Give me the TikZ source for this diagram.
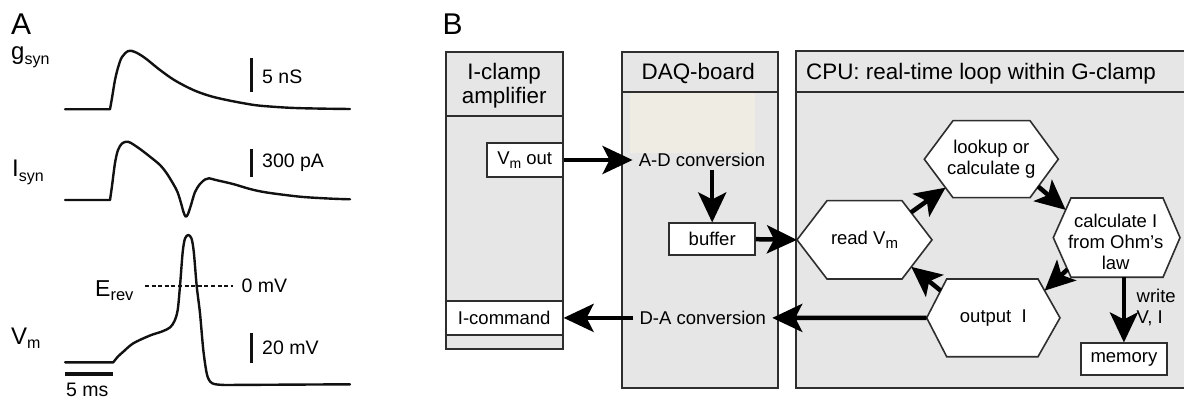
\documentclass[tikz,border=0pt]{standalone}
\usepackage{fontspec}
\setmainfont{Liberation Sans}
\usetikzlibrary{arrows.meta,calc}
\definecolor{panelgray}{HTML}{E6E6E6}
\definecolor{edgegray}{HTML}{2E2E2E}
\definecolor{beige}{HTML}{EFEDE3}
\definecolor{ink}{HTML}{111111}

% lowered, smaller subscript text
\newcommand\lowered[2][15]{\raisebox{-0.2em}{\fontsize{#1}{#1}\selectfont #2}}

% hexagon with pointed left/right ends:
% name, left tip x, flat-left x, flat-right x, right tip x, top y, bottom y
\newcommand\hexagon[7]{%
  \coordinate (#1-w)  at (#2,{(#6+#7)/2});
  \coordinate (#1-nw) at (#3,#6);
  \coordinate (#1-ne) at (#4,#6);
  \coordinate (#1-e)  at (#5,{(#6+#7)/2});
  \coordinate (#1-se) at (#4,#7);
  \coordinate (#1-sw) at (#3,#7);
  \draw[hexline] (#1-w) -- (#1-nw) -- (#1-ne) -- (#1-e) -- (#1-se) -- (#1-sw) -- cycle;
}

\begin{document}
\begin{tikzpicture}[x=1pt,y=-1pt,
  trace/.style={draw=ink, line width=2.4pt, line join=round, line cap=round},
  scalebar/.style={draw=ink, line width=3pt},
  panel/.style={draw=edgegray, line width=1.8pt, fill=panelgray, inner sep=0pt},
  divider/.style={draw=edgegray, line width=1.8pt},
  whitebox/.style={draw=edgegray, line width=1.8pt, fill=white, inner sep=0pt,
    font=\fontsize{18.5}{21}\selectfont},
  hexline/.style={draw=edgegray, line width=1.6pt, fill=white, line join=miter},
  flow/.style={draw=black, line width=4.5pt, -{Stealth[length=30pt,width=28pt,inset=7pt]}},
  headtext/.style={font=\fontsize{22.4}{25}\selectfont, align=center, inner sep=0pt},
  bodytext/.style={font=\fontsize{18.5}{21}\selectfont, align=center, inner sep=0pt},
  tracelabel/.style={font=\fontsize{24}{24}\selectfont, inner sep=0pt, anchor=base west},
  scaletext/.style={font=\fontsize{19.5}{20}\selectfont, inner sep=0pt, anchor=west},
  paneltag/.style={font=\fontsize{30}{30}\selectfont, inner sep=0pt, anchor=west}
]
\useasboundingbox (0,0) rectangle (1184,398);

% ---------------- Panel A: recorded traces ----------------
\node[paneltag] (tagA) at (11,24) {A};

\node[tracelabel] (lg) at (11,60) {g\lowered[16]{syn}};
\node[tracelabel] (li) at (12,176.7) {I\lowered[16]{syn}};
\node[tracelabel] (lv) at (11,344) {V\lowered[16]{m}};

% synaptic conductance
\draw[trace] (65,109.3) -- (110,109.3) -- plot[smooth, tension=0.55] coordinates {
  (110,109.3) (112,98) (115,80) (118.3,66.7) (122,57) (128.3,51) (135,52)
  (145,58) (160,70) (175,80.5) (193.3,90) (210,96) (226.7,100) (245,103.5)
  (260,105.7) (290,107.8) (320,108.6) (350,109)};
\draw[scalebar] (251.7,58.3) -- (251.7,91.7);
\node[scaletext] (sg) at (262,77) {5 nS};

% synaptic current
\draw[trace] (65,200) -- (110,200) -- plot[smooth, tension=0.5] coordinates {
  (110,200) (112,186) (115,163) (118,150) (122,143.5) (126.7,141.7) (131,143)
  (140,149) (150,156.7) (160,165) (166.7,173.3) (173.3,184) (177.5,192)
  (181,203) (183.5,212) (185.7,216.7) (188,214) (191,205) (195,192)
  (200,184) (205,179.5) (209,178.3) (215,179.8) (233,184) (250,189)
  (266.7,192.5) (300,196.7) (330,198.6) (350,199.3)};
\draw[scalebar] (251.7,149.3) -- (251.7,177.3);
\node[scaletext] (si) at (262,163) {300 pA};

% membrane potential
\draw[trace] (65,362.3) -- (113.3,362.3) -- plot[smooth, tension=0.5] coordinates {
  (113.3,362.3) (118,356.5) (123.3,351.7) (133.3,343.3) (150,335.5)
  (162,331.5) (170,327.5) (174.5,321) (177.7,310) (180,286) (182.7,252)
  (185,238.5) (188.3,235) (191.5,238.5) (193.8,252) (196.7,286) (200,313.3)
  (203.3,350) (206.7,373.3) (210,381.5) (215,384.2) (225,385)}
  -- (350,384.3);
\draw[trace, line width=2pt, dash pattern=on 4pt off 2.6pt, line cap=butt] (145,286) -- (233.3,286);
\node[tracelabel, font=\fontsize{23}{23}\selectfont] (le) at (95,296) {E\lowered[16.5]{rev}};
\node[scaletext] (s0) at (241.5,286) {0 mV};
\draw[scalebar] (251.7,333.3) -- (251.7,363.3);
\node[scaletext] (sv) at (262,348) {20 mV};
\draw[scalebar, line width=4pt] (65,374.3) -- (113.3,374.3);
\node[scaletext] (st) at (66,389.5) {5 ms};

% ---------------- Panel B: G-clamp data flow ----------------
\node[paneltag] (tagB) at (442.5,24) {B};

% I-clamp amplifier
\node[panel, minimum width=117pt, minimum height=297.6pt] (amp) at (504.2,200.5) {};
\draw[divider] (445.7,116) -- (562.7,116);
\node[headtext] (ampt) at (504.2,85.5) {I-clamp\\[-1pt]amplifier};
\node[whitebox, minimum width=76pt, minimum height=33.4pt] (vmout) at (524.7,160) {V\lowered[14]{m} out};
\node[whitebox, minimum width=117pt, minimum height=34pt] (icmd) at (504.2,317.9) {I-command};

% DAQ board
\node[panel, minimum width=155.4pt, minimum height=336pt] (daq) at (700,219.7) {};
\draw[divider] (622.3,92.3) -- (777.7,92.3);
\node[headtext] (daqt) at (698.3,73.3) {DAQ-board};
\fill[beige] (630,93.3) rectangle (755,153);
\node[bodytext, inner xsep=6pt, inner ysep=3pt] (ad) at (702,160) {A-D conversion};
\node[whitebox, minimum width=85.7pt, minimum height=31.7pt] (buf) at (712.2,239.2) {buffer};
\node[bodytext, inner xsep=6pt] (da) at (702.8,317.9) {D-A conversion};

% CPU real-time loop
\node[panel, minimum width=398pt, minimum height=337.3pt] (cpu) at (994.7,219.7) {};
\draw[divider] (795.7,92.3) -- (1193,92.3);
\node[headtext, anchor=west] (cput) at (806,73.3) {CPU: real-time loop within G-clamp};

\hexagon{lk}{924.3}{953}{1030}{1058.3}{120.7}{197.7}
\hexagon{rv}{797}{827}{902}{932}{200.7}{279}
\hexagon{ci}{1053.3}{1071}{1163}{1180}{198}{277.3}
\hexagon{oi}{926.7}{946.7}{1038}{1060}{279}{356.7}

\node[bodytext] (lkt) at ($(lk-w)!0.5!(lk-e)$) {lookup or\\calculate g};
\node[bodytext] (rvt) at ($(rv-w)!0.5!(rv-e)$) {read V\lowered{m}};
\node[bodytext] (cit) at ($(ci-w)!0.5!(ci-e)+(-1,4)$) {calculate I\\from Ohm's\\law};
\node[bodytext] (oit) at ($(oi-w)!0.5!(oi-e)$) {output~~I};

\node[whitebox, minimum width=85.7pt, minimum height=31.7pt] (mem) at (1123.9,359.2) {memory};
\node[bodytext, align=left, anchor=west] (wvi) at (1136.5,307.5) {write\\V, I};

% connectors
\draw[flow] (vmout.east) -- (ad.west);
\draw[flow] (ad.south -| buf.north) -- (buf.north);
\draw[flow] (buf.east) -- (rv-w);
\draw[flow] ($(rv-ne)!0.3!(rv-e)$) -- ($(lk-sw)!0.26!(lk-w)$);
\draw[flow] ($(lk-se)!0.29!(lk-e)$) -- ($(ci-nw)!0.3!(ci-w)$);
\draw[flow] ($(ci-sw)!0.2!(ci-w)$) -- ($(oi-ne)!0.3!(oi-e)$);
\draw[flow] ($(oi-nw)!0.3!(oi-w)$) -- ($(rv-se)!0.31!(rv-e)$);
\draw[flow] (mem.north |- ci-sw) -- (mem.north);
\draw[flow] (oi-w) -- (da.east);
\draw[flow] (da.west) -- (icmd.east);
\end{tikzpicture}
\end{document}
